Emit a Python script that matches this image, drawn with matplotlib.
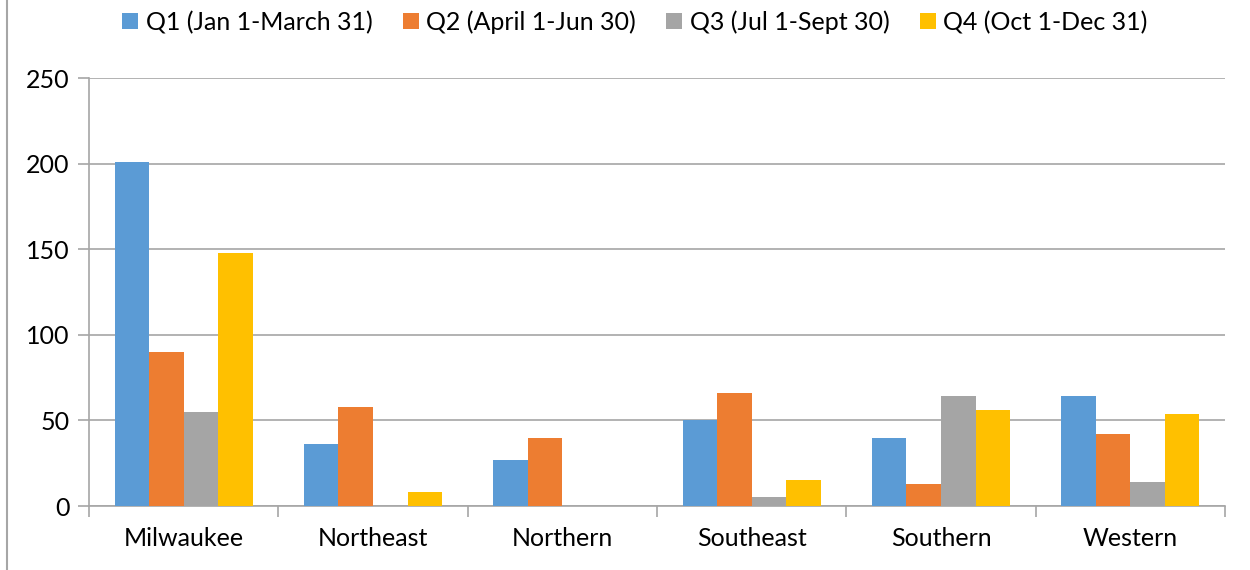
import matplotlib
matplotlib.use("Agg")
import matplotlib.pyplot as plt
import numpy as np
from matplotlib.lines import Line2D

categories = ["Milwaukee", "Northeast", "Northern", "Southeast", "Southern", "Western"]
series_names = ["Q1 (Jan 1-March 31)", "Q2 (April 1-Jun 30)", "Q3 (Jul 1-Sept 30)", "Q4 (Oct 1-Dec 31)"]
q1 = [201, 36, 27, 50, 40, 64]
q2 = [90, 58, 40, 66, 13, 42]
q3 = [55, 0, 0, 5, 64, 14]
q4 = [148, 8, 0, 15, 56, 54]
colors = ["#5b9bd5", "#ed7d31", "#a5a5a5", "#ffc000"]
yticks = [0, 50, 100, 150, 200, 250]

plt.rcParams['font.family'] = ['Lato', 'DejaVu Sans']

fig = plt.figure(figsize=(12.5, 5.7), dpi=100)
ax = fig.add_axes([89/1250, 1-506/570, (1225-89)/1250, (506-78)/570])

x = np.arange(len(categories))
group = 0.73
w = group / 4
for i, vals in enumerate([q1, q2, q3, q4]):
    ax.bar(x - group/2 + w*(i+0.5), vals, width=w, color=colors[i], label=series_names[i], zorder=3)

ax.set_xlim(-0.5, len(categories)-0.5)
ax.set_ylim(0, 250)
ax.set_yticks(yticks)
ax.set_yticklabels([str(t) for t in yticks], fontsize=18)
ax.yaxis.grid(True, color="#a6a6a6", linewidth=1.2, zorder=0)
ax.set_xticks(x)
ax.set_xticklabels(categories, fontsize=18)
ax.tick_params(axis='x', length=0, pad=15)
ax.set_xticks(np.arange(-0.5, len(categories)), minor=True)
ax.tick_params(axis='x', which='minor', length=8, color="#a6a6a6", width=1.2)
ax.tick_params(axis='y', length=8, color="#a6a6a6", width=1.2, pad=6)
for s in ['top', 'right']:
    ax.spines[s].set_visible(False)
for s in ['left', 'bottom']:
    ax.spines[s].set_color("#a6a6a6")
    ax.spines[s].set_linewidth(1.2)

leg = fig.legend(loc='center', bbox_to_anchor=(0.508, 1-22/570), ncol=4, frameon=False,
                 fontsize=18, handlelength=0.65, handleheight=0.65, handletextpad=0.3,
                 columnspacing=1.2)

fig.add_artist(Line2D([7/1250, 7/1250], [0, 1], transform=fig.transFigure, color="#a6a6a6", linewidth=1.5))

fig.savefig("out.png", dpi=100)
